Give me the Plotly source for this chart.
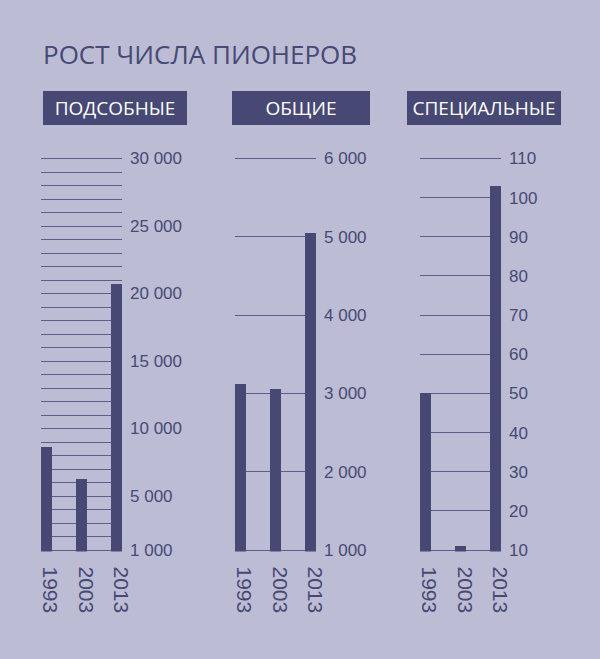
import plotly.graph_objects as go

years = ["1993", "2003", "2013"]

title_text = "РОСТ ЧИСЛА ПИОНЕРОВ"
panel_titles = ["ПОДСОБНЫЕ", "ОБЩИЕ", "СПЕЦИАЛЬНЫЕ"]

podsobnye = [8600, 6250, 20700]
obshchie = [3120, 3050, 5050]
specialnye = [50, 11, 103]

ticks_podsobnye = [1000, 5000, 10000, 15000, 20000, 25000, 30000]
labels_podsobnye = ["1 000", "5 000", "10 000", "15 000", "20 000", "25 000", "30 000"]
ticks_obshchie = [1000, 2000, 3000, 4000, 5000, 6000]
labels_obshchie = ["1 000", "2 000", "3 000", "4 000", "5 000", "6 000"]
ticks_special = [10, 20, 30, 40, 50, 60, 70, 80, 90, 100, 110]
labels_special = [str(v) for v in ticks_special]

BG = "#bcbdd5"
DARK = "#474974"
GRID = "#5d5f88"
W, H = 600, 659

fig = go.Figure()

panels = [
    (podsobnye, ticks_podsobnye, labels_podsobnye, [1000, 30000], 1000, (41, 122)),
    (obshchie, ticks_obshchie, labels_obshchie, [1000, 6000], 1000, (235, 316)),
    (specialnye, ticks_special, labels_special, [10, 110], 10, (420, 501)),
]

top_px, bot_px = 158.5, 550
pad_px = 1.5
y_dom = [1 - (bot_px + pad_px) / H, 1 - (top_px - pad_px) / H]

for i, (vals, tv, tt, rng, minor_dt, (x0, x1)) in enumerate(panels):
    n = "" if i == 0 else str(i + 1)
    per_px = (rng[1] - rng[0]) / (bot_px - top_px)
    rng_ext = [rng[0] - pad_px * per_px, rng[1] + pad_px * per_px]
    fig.add_trace(go.Bar(
        x=years, y=vals, xaxis="x" + n, yaxis="y" + n,
        width=0.3, marker=dict(color=DARK, line=dict(width=0)),
        showlegend=False, hoverinfo="skip",
    ))
    fig.layout["xaxis" + n] = dict(
        domain=[x0 / W, x1 / W], anchor="y" + n, type="category",
        range=[-0.15, 2.15], showgrid=False, zeroline=False, showline=False,
        tickangle=90, tickfont=dict(size=21, color=DARK, family="Liberation Sans, Arial"),
        ticks="", ticklabelstandoff=14, ticklabelshift=4,
        fixedrange=True, automargin=False,
    )
    fig.layout["yaxis" + n] = dict(
        domain=y_dom, anchor="x" + n, range=rng_ext, side="right",
        tickmode="array", tickvals=tv, ticktext=tt,
        showgrid=True, gridcolor=GRID, gridwidth=1,
        minor=dict(dtick=minor_dt, tick0=0, showgrid=True, gridcolor=GRID, gridwidth=1),
        zeroline=False, showline=False, ticks="",
        tickfont=dict(size=17, color=DARK, family="Liberation Sans, Arial"),
        ticklabelstandoff=7, fixedrange=True, automargin=False,
    )

annotations = [dict(
    text=title_text, x=41 / W, y=1 - 54 / H, xref="paper", yref="paper",
    xanchor="left", yanchor="middle", showarrow=False,
    font=dict(size=26, color=DARK, family="Open Sans"),
)]

boxes = [(43, 144), (232, 138), (407, 154)]
for txt, (bx, bw) in zip(panel_titles, boxes):
    annotations.append(dict(
        text=txt, x=bx / W, y=1 - 91 / H, xref="paper", yref="paper",
        xanchor="left", yanchor="top", showarrow=False,
        width=bw, height=34, align="center", valign="middle",
        bgcolor=DARK, borderpad=0, borderwidth=0,
        font=dict(size=19, color="white", family="Open Sans"),
    ))

fig.update_layout(
    width=W, height=H, autosize=False,
    margin=dict(l=0, r=0, t=0, b=0, pad=0, autoexpand=False),
    paper_bgcolor=BG, plot_bgcolor=BG,
    annotations=annotations, bargap=0,
)

css_js = (
    "var s=document.createElement('style');"
    "s.textContent='html,body{margin:0!important;padding:0!important;overflow:hidden;"
    "background:" + BG + ";}';"
    "document.head.appendChild(s);"
)

fig.write_html(
    "out.html",
    config={"displayModeBar": False},
    post_script=css_js,
)
